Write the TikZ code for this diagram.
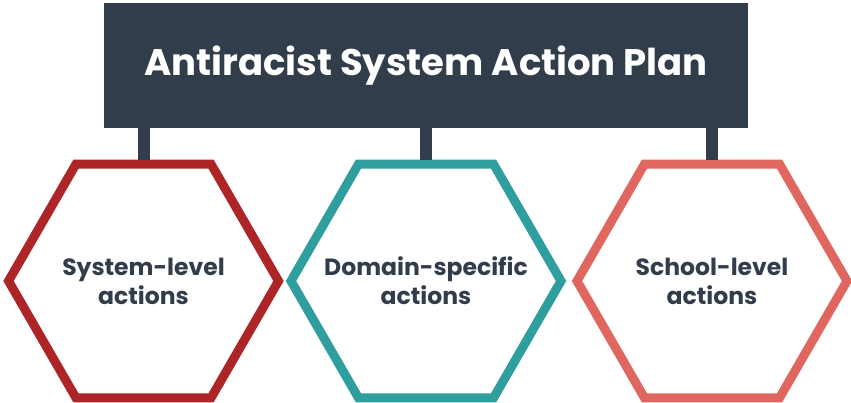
\documentclass[tikz,border=0pt]{standalone}
\usepackage{fontspec}
\setmainfont{Poppins}
\usepackage{xcolor}
\usetikzlibrary{shapes.geometric}

\definecolor{slate}{HTML}{323D4C}
\definecolor{brickred}{HTML}{AD2526}
\definecolor{teal}{HTML}{2E9E9E}
\definecolor{salmon}{HTML}{E06660}

\begin{document}
\begin{tikzpicture}[x=1pt,y=-1pt]
\tikzset{hexa/.style={regular polygon,regular polygon sides=6,minimum size=270pt,inner sep=0pt,
  line width=9pt,fill=white}}
\tikzset{hexlabel/.style={text=slate,align=center,font=\bfseries\fontsize{23.5}{29}\selectfont}}
\tikzset{stem/.style={slate,line width=12pt}}

\useasboundingbox[fill=white] (0,0) rectangle (851,402);

\node[fill=slate,minimum width=644pt,minimum height=125pt,inner sep=0pt,
  text=white,font=\bfseries\fontsize{37}{44}\selectfont] (title) at (426,65.5) {Antiracist System Action Plan};

\node[hexa,draw=brickred,label={[hexlabel]center:System-level\\actions}] (system) at (143.5,281) {};
\node[hexa,draw=teal,label={[hexlabel]center:Domain-specific\\actions}] (domain) at (426,281) {};
\node[hexa,draw=salmon,label={[hexlabel]center:School-level\\actions}] (school) at (712,281) {};

\draw[stem] (title.south -| system.north) -- (system.north);
\draw[stem] (title.south -| domain.north) -- (domain.north);
\draw[stem] (title.south -| school.north) -- (school.north);

\end{tikzpicture}
\end{document}
